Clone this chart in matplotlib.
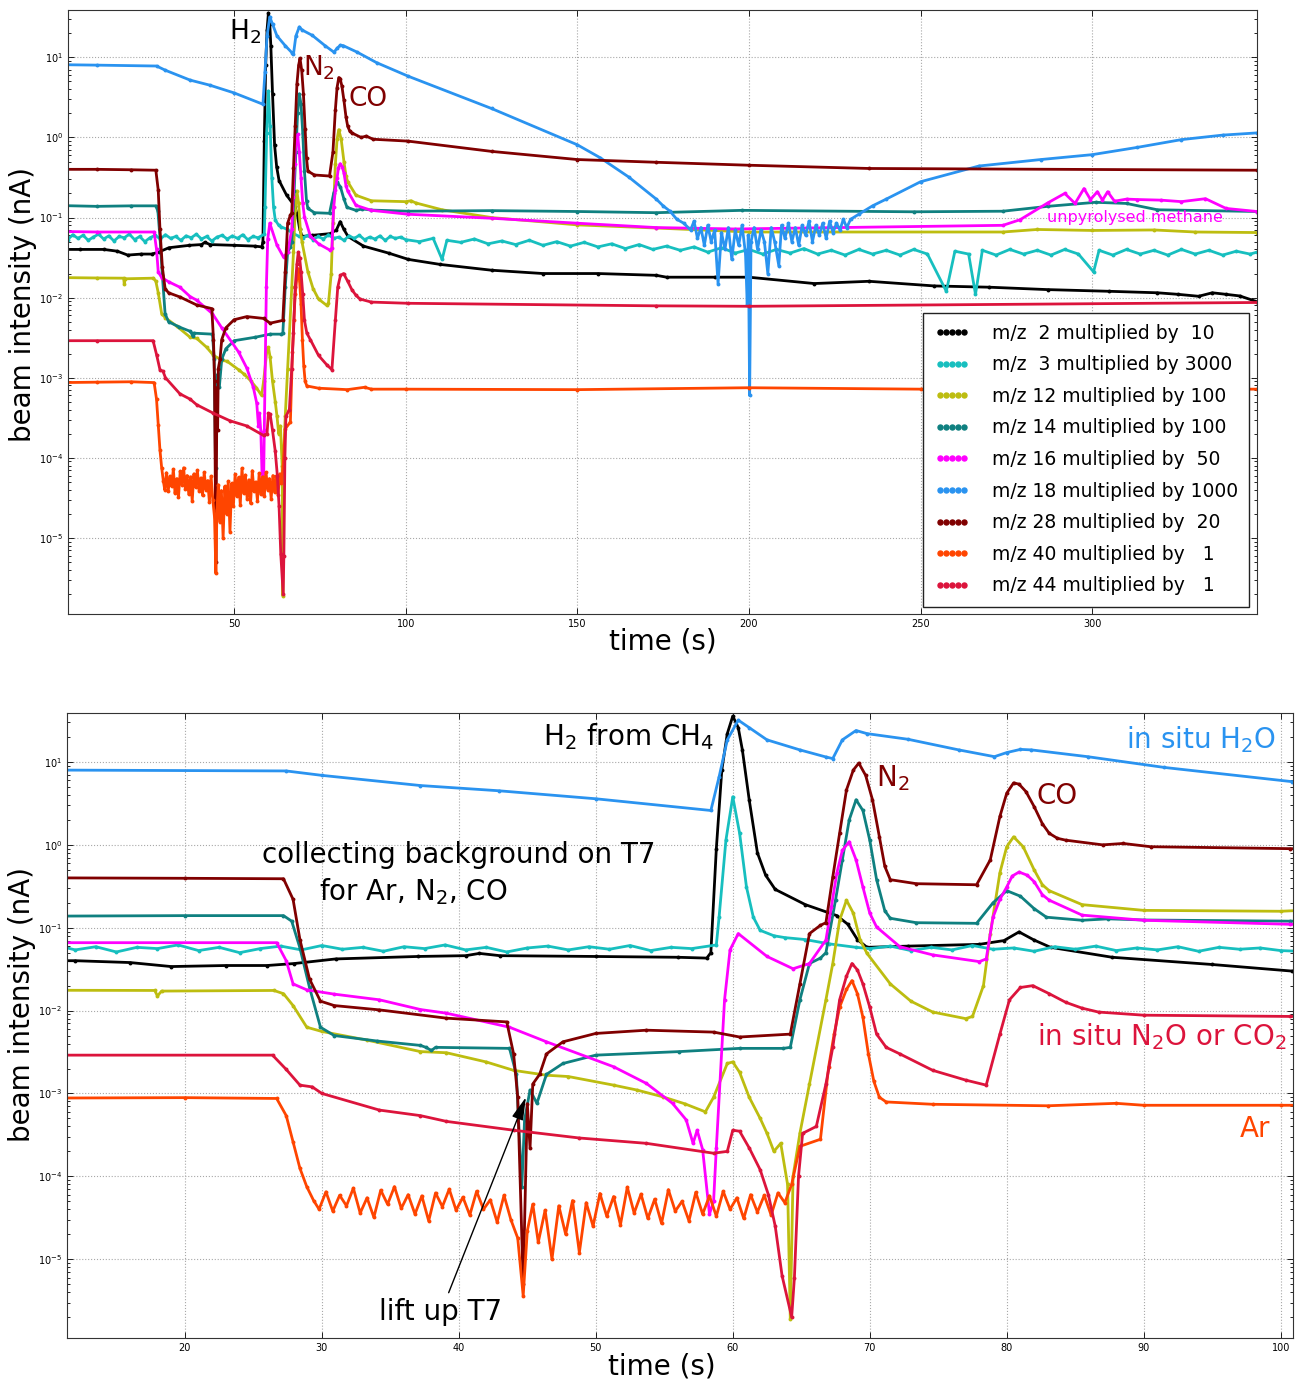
import numpy as np
import matplotlib
matplotlib.use("Agg")
from matplotlib import pyplot as plt
from matplotlib.lines import Line2D


# (time in s, beam intensity in nA)
mz2 = [(0, 0.040), (5, 0.040), (12, 0.040), (16, 0.038), (19, 0.034), (23, 0.035),
       (26, 0.035), (28, 0.037), (31, 0.042), (37, 0.045), (40.5, 0.046), (41.5, 0.049),
       (43, 0.046), (50, 0.045), (56, 0.044), (58.1, 0.043), (58.4, 0.05), (58.8, 0.9),
       (59.2, 8.0), (59.6, 22.0), (60.0, 35.8), (60.4, 26.0), (60.7, 14.0), (61.2, 3.5),
       (61.8, 0.8), (62.4, 0.43), (63.1, 0.29), (65.3, 0.19), (67.6, 0.14), (68.4, 0.11),
       (69.1, 0.072), (69.8, 0.058), (72.8, 0.060), (78.0, 0.063), (79.8, 0.07), (80.9, 0.089),
       (82.0, 0.071), (83.2, 0.058), (87.7, 0.044), (95, 0.036), (100.8, 0.030), (110, 0.026),
       (125, 0.022), (140, 0.020), (156, 0.020), (173, 0.019), (176, 0.018), (190, 0.018),
       (200, 0.018), (219, 0.015), (235, 0.016), (254, 0.014), (270, 0.0135), (287, 0.0126),
       (305, 0.012), (319, 0.0115), (325, 0.011), (331, 0.0104), (335, 0.0115), (339, 0.011),
       (343, 0.0105), (348, 0.0089)]

mz3 = [(0, 0.058), (1.5, 0.053), (3, 0.061), (4.5, 0.055), (6, 0.060), (7.5, 0.052),
       (9, 0.057), (10.5, 0.062), (12, 0.054), (13.5, 0.059), (15, 0.051), (16.5, 0.058),
       (18, 0.056), (19.5, 0.062), (21, 0.053), (22.5, 0.058), (24, 0.050), (25.5, 0.056),
       (27, 0.060), (28.5, 0.054), (30, 0.061), (31.5, 0.055), (33, 0.058), (34.5, 0.052),
       (36, 0.059), (37.5, 0.056), (39, 0.062), (40.5, 0.054), (42, 0.058), (43.5, 0.051),
       (45, 0.057), (46.5, 0.060), (48, 0.054), (49.5, 0.059), (51, 0.055), (52.5, 0.061),
       (54, 0.053), (55.5, 0.058), (57, 0.056), (58.8, 0.062), (59.0, 0.134), (59.5, 1.14),
       (60.0, 3.8), (60.5, 1.38), (61.0, 0.31), (61.5, 0.134), (62.0, 0.093), (63.0, 0.08),
       (63.8, 0.076), (65.3, 0.072), (67, 0.064), (69, 0.058), (70, 0.056), (71.5, 0.060),
       (73, 0.053), (74.5, 0.058), (76, 0.054), (77.5, 0.061), (79, 0.055), (80.5, 0.057),
       (82, 0.052), (83.5, 0.059), (85, 0.055), (86.5, 0.060), (88, 0.053), (89.5, 0.057),
       (91, 0.054), (92.5, 0.059), (94, 0.052), (95.5, 0.058), (97, 0.055), (98.5, 0.057),
       (100, 0.053), (104, 0.050), (108, 0.055), (110.6, 0.030), (112, 0.052), (116, 0.049),
       (120, 0.054), (124, 0.047), (128, 0.051), (132, 0.046), (136, 0.052), (140, 0.045),
       (144, 0.050), (148, 0.044), (152, 0.049), (156, 0.043), (160, 0.047), (164, 0.041),
       (168, 0.046), (172, 0.040), (176, 0.044), (180, 0.039), (184, 0.043), (188, 0.037),
       (192, 0.042), (196, 0.036), (200, 0.040), (204, 0.035), (208, 0.040), (212, 0.036),
       (216, 0.041), (220, 0.035), (224, 0.039), (228, 0.034), (232, 0.040), (236, 0.035),
       (240, 0.039), (244, 0.034), (248, 0.040), (252, 0.035), (257.5, 0.012), (260, 0.038),
       (264, 0.035), (266, 0.011), (268, 0.039), (272, 0.034), (276, 0.040), (280, 0.035),
       (284, 0.039), (288, 0.034), (292, 0.040), (296, 0.035), (300.4, 0.021), (302, 0.039),
       (306, 0.034), (310, 0.040), (314, 0.035), (318, 0.039), (322, 0.034), (326, 0.040),
       (330, 0.035), (334, 0.039), (338, 0.034), (342, 0.038), (346, 0.035), (348, 0.037)]

mz12 = [(0, 0.0178), (10, 0.0176), (17.8, 0.0175), (18.0, 0.0150), (18.3, 0.0172),
        (26.5, 0.0175), (27.2, 0.016), (27.9, 0.0115), (28.9, 0.0063), (30, 0.0056),
        (33.3, 0.0044), (37.2, 0.0032), (39.1, 0.0031), (42, 0.0024), (44, 0.0019),
        (46.4, 0.00166), (48, 0.0016), (51.3, 0.00126), (53, 0.0011), (54.9, 0.00091),
        (56.5, 0.00075), (58, 0.0006), (58.6, 0.0009), (59.6, 0.0023), (60, 0.0024),
        (60.5, 0.0018), (61.2, 0.0009), (62.0, 0.0005), (62.5, 0.00033), (63.0, 0.0002),
        (63.5, 0.00025), (64.0, 0.00008), (64.2, 1.9e-6), (64.4, 0.0001), (64.9, 0.00033),
        (65.6, 0.0013), (66.8, 0.0135), (67.3, 0.037), (67.8, 0.123), (68.3, 0.215),
        (68.8, 0.15), (69.3, 0.071), (69.8, 0.049), (71.5, 0.021), (73, 0.013), (74.6, 0.0096),
        (77, 0.008), (77.5, 0.0085), (78.3, 0.02), (78.8, 0.085), (79.5, 0.46), (80.0, 0.95),
        (80.5, 1.25), (81.2, 0.95), (82.0, 0.5), (82.6, 0.33), (83.1, 0.28), (85.5, 0.19),
        (90, 0.162), (100, 0.158), (101.5, 0.162), (103, 0.152), (110.6, 0.125), (125, 0.10),
        (150, 0.081), (173, 0.074), (200, 0.066), (274, 0.066), (284, 0.071), (300, 0.069),
        (318, 0.070), (330, 0.066), (348, 0.065)]

mz14 = [(0, 0.141), (10, 0.138), (20, 0.14), (27.2, 0.14), (27.8, 0.12), (28.4, 0.057),
        (29.1, 0.019), (29.9, 0.0063), (30.9, 0.005), (34, 0.0043), (37.2, 0.0038),
        (37.6, 0.0036), (38.0, 0.0033), (38.3, 0.0036), (43.7, 0.0035), (44.2, 0.0017),
        (44.6, 7.4e-5), (44.8, 4.8e-4), (45.2, 0.0011), (45.7, 7.6e-4), (46.4, 0.0017),
        (47.6, 0.0023), (50, 0.0029), (56.1, 0.0032), (60.5, 0.0035), (63.7, 0.0035),
        (64.2, 0.0036), (64.9, 0.0135), (65.6, 0.037), (66.4, 0.043), (66.8, 0.05),
        (67.5, 0.215), (68.0, 0.66), (68.5, 2.0), (69.0, 3.5), (69.5, 2.6), (70.0, 1.14),
        (70.5, 0.38), (71.1, 0.16), (71.5, 0.13), (73.4, 0.115), (77.8, 0.113), (79.0, 0.2),
        (80.0, 0.28), (81.0, 0.24), (82.0, 0.17), (82.9, 0.134), (85.5, 0.123), (87.4, 0.128),
        (90, 0.124), (100.7, 0.12), (125, 0.122), (150, 0.119), (173, 0.115), (198, 0.123),
        (248, 0.118), (274, 0.12), (287, 0.138), (301, 0.155), (310, 0.15), (319, 0.125),
        (348, 0.119)]

mz16 = [(0, 0.067), (10, 0.066), (26.7, 0.066), (27.4, 0.04), (27.9, 0.021), (28.9, 0.0178),
        (30.9, 0.0158), (34.2, 0.0135), (37.2, 0.0103), (39.1, 0.0093), (43.7, 0.0063),
        (46.4, 0.0042), (51.3, 0.0021), (53.7, 0.00132), (55.6, 0.00076), (56.6, 0.00048),
        (57.1, 0.00025), (57.4, 0.00036), (57.8, 0.00021), (58.3, 3.5e-5), (58.6, 5e-5),
        (58.8, 0.00022), (59.4, 0.0135), (59.8, 0.054), (60.4, 0.085), (62.5, 0.045),
        (64.4, 0.032), (65.6, 0.037), (66.8, 0.071), (67.2, 0.18), (67.6, 0.46), (68.0, 0.86),
        (68.5, 1.09), (69.0, 0.66), (69.5, 0.31), (70.0, 0.15), (70.5, 0.102), (72.2, 0.059),
        (74.6, 0.047), (78, 0.039), (78.5, 0.042), (79.0, 0.134), (79.5, 0.22), (80.0, 0.31),
        (80.4, 0.42), (80.9, 0.47), (81.5, 0.43), (82.0, 0.36), (82.6, 0.25), (83.1, 0.215),
        (85.5, 0.142), (90, 0.123), (100.7, 0.11), (125, 0.098), (150, 0.085), (173, 0.075),
        (196, 0.072), (274, 0.08), (279, 0.094), (287, 0.152), (292, 0.20), (295, 0.15),
        (297.6, 0.23), (299.5, 0.168), (301.5, 0.21), (303, 0.165), (304.5, 0.21),
        (306.5, 0.16), (310, 0.17), (313, 0.168), (320, 0.165), (326, 0.158), (333, 0.172),
        (339, 0.13), (348, 0.119)]

mz18 = [(0, 8.1), (10, 8.0), (27.4, 7.8), (30, 6.9), (37.2, 5.2), (42.9, 4.5), (50, 3.6),
        (58.4, 2.6), (59.0, 6.6), (59.6, 18.5), (60.4, 32.0), (61.2, 26.0), (62.5, 18.5),
        (64.9, 14.0), (66.8, 11.5), (67.3, 11.0), (68.0, 18.5), (69.0, 24.0), (69.8, 22.0),
        (72.8, 18.8), (76.5, 14.0), (79.1, 11.6), (80.0, 13.0), (81.0, 14.2), (81.8, 14.0),
        (85.9, 11.6), (91.5, 8.6), (100.8, 5.8), (125, 2.3), (150, 0.81), (156.6, 0.56),
        (165, 0.32), (173, 0.17), (175, 0.14), (177, 0.12), (179, 0.095), (181, 0.085),
        (183, 0.07), (184, 0.09), (185, 0.055), (186, 0.075), (187, 0.045), (188, 0.08),
        (189, 0.05), (190, 0.07), (191, 0.015), (192, 0.065), (193, 0.04), (194, 0.075),
        (195, 0.03), (196, 0.07), (197, 0.045), (198, 0.08), (199, 0.035), (199.5, 0.008),
        (199.8, 0.06), (200.2, 0.0006), (200.6, 0.05), (201.5, 0.075), (202.5, 0.04),
        (203.5, 0.07), (204.5, 0.05), (205.5, 0.02), (206.5, 0.075), (207.5, 0.05),
        (208.7, 0.025), (209.5, 0.08), (210.5, 0.055), (211.5, 0.085), (212.5, 0.05),
        (213.5, 0.075), (214.5, 0.045), (215.5, 0.08), (216.5, 0.06), (217.5, 0.09),
        (218.5, 0.05), (219.5, 0.08), (220.5, 0.06), (221.5, 0.085), (222.5, 0.055),
        (223.5, 0.09), (224.5, 0.065), (225.5, 0.085), (226.5, 0.07), (227.5, 0.095),
        (228.5, 0.075), (229.6, 0.095), (232, 0.11), (236, 0.14), (240, 0.17), (250, 0.28),
        (267, 0.44), (285, 0.53), (300, 0.61), (313, 0.75), (326, 0.94), (338, 1.07),
        (348, 1.14)]

mz28 = [(0, 0.40), (10, 0.40), (20, 0.395), (27.2, 0.39), (27.9, 0.22), (28.4, 0.072),
        (29.1, 0.024), (29.9, 0.013), (30.9, 0.0115), (34.2, 0.0102), (39.1, 0.0081),
        (43.5, 0.0073), (44.0, 0.003), (44.3, 0.00091), (44.7, 5e-6), (45.0, 0.00075),
        (45.2, 0.00022), (45.4, 0.0013), (45.9, 0.0017), (46.4, 0.003), (47.6, 0.0042),
        (50, 0.0053), (53.7, 0.0058), (58.6, 0.0055), (60.5, 0.0048), (64.2, 0.0052),
        (64.9, 0.021), (65.6, 0.085), (66.4, 0.107), (66.8, 0.115), (67.3, 0.41), (67.8, 1.38),
        (68.3, 4.6), (68.8, 8.0), (69.2, 9.7), (69.7, 6.9), (70.2, 3.5), (70.7, 1.26),
        (71.1, 0.55), (71.5, 0.38), (73.4, 0.34), (77.8, 0.33), (78.8, 0.66), (79.5, 2.2),
        (80.0, 4.2), (80.5, 5.6), (80.9, 5.4), (81.4, 4.4), (82.0, 2.9), (82.6, 1.8),
        (83.1, 1.38), (83.7, 1.2), (84.3, 1.14), (87, 1.0), (88.5, 1.04), (90.5, 0.95),
        (100.7, 0.9), (125, 0.67), (150, 0.53), (173, 0.49), (200, 0.45), (235, 0.41),
        (348, 0.39)]

mz40 = [(0, 0.00087), (10, 0.00088), (20, 0.00089), (26.7, 0.00087), (27.4, 0.00054),
        (27.9, 0.00026), (28.4, 0.000125), (28.9, 7.5e-5), (29.4, 5.1e-5), (29.8, 4.0e-5),
        (30.3, 6.5e-5), (30.8, 3.8e-5), (31.3, 5.9e-5), (31.8, 4.4e-5), (32.3, 7.2e-5),
        (32.8, 3.6e-5), (33.3, 5.5e-5), (33.8, 3.2e-5), (34.3, 6.8e-5), (34.8, 4.6e-5),
        (35.3, 7.5e-5), (35.8, 4.1e-5), (36.3, 6.0e-5), (36.8, 3.5e-5), (37.3, 5.8e-5),
        (37.8, 2.9e-5), (38.3, 6.3e-5), (38.8, 4.3e-5), (39.3, 7.0e-5), (39.8, 3.9e-5),
        (40.3, 5.6e-5), (40.8, 3.4e-5), (41.3, 6.6e-5), (41.8, 4.0e-5), (42.3, 5.2e-5),
        (42.8, 2.8e-5), (43.3, 5.9e-5), (43.8, 3.0e-5), (44.3, 1.8e-5), (44.7, 3.6e-6),
        (45.0, 2.2e-5), (45.4, 4.6e-5), (45.8, 1.6e-5), (46.3, 3.9e-5), (46.8, 1.0e-5),
        (47.3, 4.4e-5), (47.8, 2.0e-5), (48.3, 5.1e-5), (48.8, 1.2e-5), (49.3, 4.8e-5),
        (49.8, 2.5e-5), (50.3, 6.2e-5), (50.8, 3.3e-5), (51.3, 5.7e-5), (51.8, 2.6e-5),
        (52.3, 7.4e-5), (52.8, 3.6e-5), (53.3, 6.1e-5), (53.8, 3.1e-5), (54.3, 5.3e-5),
        (54.8, 2.7e-5), (55.3, 6.9e-5), (55.8, 3.8e-5), (56.3, 5.0e-5), (56.8, 2.9e-5),
        (57.3, 6.4e-5), (57.8, 3.5e-5), (58.3, 5.8e-5), (58.8, 3.3e-5), (59.3, 6.6e-5),
        (59.8, 4.0e-5), (60.3, 5.5e-5), (60.8, 3.1e-5), (61.3, 6.0e-5), (61.8, 3.7e-5),
        (62.3, 5.9e-5), (62.8, 3.4e-5), (63.3, 6.3e-5), (63.8, 4.8e-5), (64.3, 8e-5),
        (64.9, 0.00023), (66.4, 0.00028), (67.0, 0.0021), (67.4, 0.0052), (67.8, 0.011),
        (68.3, 0.018), (68.7, 0.023), (69.1, 0.016), (69.5, 0.0083), (69.9, 0.003),
        (70.3, 0.0014), (70.7, 0.0009), (71.2, 0.00079), (74.6, 0.00074), (83, 0.00071),
        (88, 0.00076), (90, 0.00072), (100, 0.00072), (150, 0.00071), (200, 0.00075),
        (250, 0.00072), (348, 0.00072)]

mz44 = [(0, 0.0029), (10, 0.0029), (26.4, 0.0029), (27.4, 0.00195), (28.4, 0.00126),
        (29.3, 0.0012), (30, 0.001), (34.2, 0.00063), (37.2, 0.00054), (39.1, 0.00046),
        (44, 0.00036), (48.8, 0.00029), (53.7, 0.00025), (58.6, 0.00019), (59.6, 0.0002),
        (60.0, 0.00036), (60.5, 0.00035), (61.2, 0.00022), (62, 0.00012), (62.6, 6e-5),
        (63.1, 2.5e-5), (63.6, 6.3e-6), (64.3, 2e-6), (64.5, 6e-6), (64.8, 0.0001),
        (65.1, 0.00033), (66.1, 0.0004), (66.8, 0.0013), (67.3, 0.0036), (67.8, 0.0135),
        (68.3, 0.026), (68.7, 0.037), (69.1, 0.031), (69.5, 0.021), (70.0, 0.011),
        (70.5, 0.0052), (71.2, 0.0036), (72.2, 0.003), (74.6, 0.0019), (77, 0.00145),
        (78.5, 0.00126), (79.5, 0.0052), (80.2, 0.0135), (81.0, 0.019), (81.9, 0.020),
        (83.1, 0.016), (84.3, 0.0126), (85.5, 0.0107), (86.7, 0.0096), (90, 0.0088),
        (100.7, 0.0085), (173, 0.0079), (200, 0.0078), (348, 0.0087)]

series = [mz2, mz3, mz12, mz14, mz16, mz18, mz28, mz40, mz44]
colors = ["#000000", "#17bfbf", "#bdbd10", "#0f8080", "#ff00ff",
          "#2a93f0", "#800000", "#ff4500", "#dc143c"]
labels = ["m/z  2 multiplied by  10", "m/z  3 multiplied by 3000",
          "m/z 12 multiplied by 100", "m/z 14 multiplied by 100",
          "m/z 16 multiplied by  50", "m/z 18 multiplied by 1000",
          "m/z 28 multiplied by  20", "m/z 40 multiplied by   1",
          "m/z 44 multiplied by   1"]

fig = plt.figure(figsize=(13.02, 13.94), dpi=100)
ax_top = fig.add_axes([0.0522, 0.5595, 0.9132, 0.4333])
ax_bot = fig.add_axes([0.0515, 0.0402, 0.9416, 0.4483])

for ax in (ax_top, ax_bot):
    for data, c in zip(series, colors):
        t, v = np.array(data).T
        ax.plot(t, v, color=c, lw=2.0, marker="o", ms=2.8, mew=0)
    ax.set_yscale("log")
    ax.set_ylim(1.12e-6, 39)
    ax.grid(True, which="major", ls=":", color="#a8a8a8", lw=0.8)
    ax.tick_params(which="both", direction="in", top=True, right=True,
                   labelsize=7, width=0.6)
    ax.tick_params(which="major", length=4)
    ax.tick_params(which="minor", length=2)
    for sp in ax.spines.values():
        sp.set_color("#333333")
    ax.set_xlabel("time (s)", fontsize=20)
    ax.set_ylabel("beam intensity (nA)", fontsize=20)

ax_top.set_xlim(1.6, 348)
ax_top.set_xticks([50, 100, 150, 200, 250, 300])
ax_bot.set_xlim(11.4, 100.9)
ax_bot.set_xticks([20, 30, 40, 50, 60, 70, 80, 90, 100])

ax_top.xaxis.set_label_coords(0.5, -0.022)
ax_top.yaxis.set_label_coords(-0.026, 0.512)
ax_bot.xaxis.set_label_coords(0.485, -0.024)
ax_bot.yaxis.set_label_coords(-0.025, 0.533)

# legend with dotted marker handles
handles = [Line2D([], [], color=c, ls="none", marker="o", ms=3.6) for c in colors]
leg = ax_top.legend(handles, labels, loc="lower right", numpoints=5, fontsize=13.5,
                    handlelength=1.9, handletextpad=1.2, labelspacing=0.67,
                    borderaxespad=0.4, fancybox=False, framealpha=1, borderpad=0.6)
leg.get_frame().set_edgecolor("#222222")
leg.get_frame().set_linewidth(1.0)

# top panel labels
ax_top.text(53.2, 21, "H$_2$", fontsize=19, color="black", ha="center", va="center")
ax_top.text(74.8, 7.5, "N$_2$", fontsize=19, color="#800000", ha="center", va="center")
ax_top.text(89, 3.0, "CO", fontsize=19, color="#800000", ha="center", va="center")
ax_top.text(312.5, 0.1, "unpyrolysed methane", fontsize=11.5, color="#ff00ff",
            ha="center", va="center")

# bottom panel labels
ax_bot.text(52.4, 20, "H$_2$ from CH$_4$", fontsize=20, color="black",
            ha="center", va="center")
ax_bot.text(94.2, 18.5, "in situ H$_2$O", fontsize=20, color="#2a93f0",
            ha="center", va="center")
ax_bot.text(71.7, 6.4, "N$_2$", fontsize=20, color="#800000", ha="center", va="center")
ax_bot.text(83.7, 3.9, "CO", fontsize=20, color="#800000", ha="center", va="center")
ax_bot.text(40.0, 0.75, "collecting background on T7", fontsize=20, color="black",
            ha="center", va="center")
ax_bot.text(36.7, 0.275, "for Ar, N$_2$, CO", fontsize=20, color="black",
            ha="center", va="center")
ax_bot.text(91.3, 0.0049, "in situ N$_2$O or CO$_2$", fontsize=20, color="#dc143c",
            ha="center", va="center")
ax_bot.text(98.1, 3.7e-4, "Ar", fontsize=20, color="#ff4500", ha="center", va="center")
ax_bot.annotate("lift up T7", xy=(44.9, 9e-4), xytext=(38.7, 2.3e-6), fontsize=20,
                ha="center", va="center",
                arrowprops=dict(arrowstyle="-|>,head_length=0.7,head_width=0.18",
                                color="black", lw=1.0, shrinkA=2, shrinkB=0))

fig.savefig("out.png", dpi=100)
